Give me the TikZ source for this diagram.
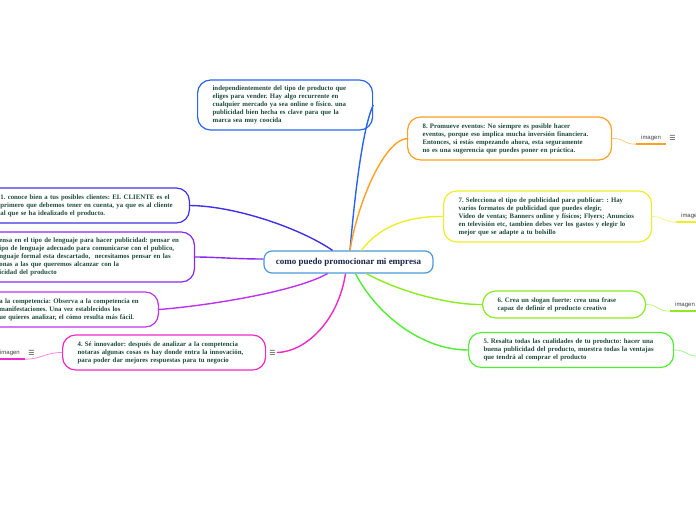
\documentclass[tikz,border=0pt]{standalone}
\usepackage{fontspec}
\setmainfont{Liberation Serif}
\setsansfont{Liberation Sans}
\newfontfamily\simbolos{DejaVu Sans}
\usetikzlibrary{positioning}
\frenchspacing

\definecolor{texto}{RGB}{30,75,60}
\definecolor{textoraiz}{RGB}{28,38,72}
\definecolor{raiz}{RGB}{74,154,216}
\definecolor{azul}{RGB}{40,100,240}
\definecolor{naranja}{RGB}{255,160,32}
\definecolor{amarillo}{RGB}{238,238,40}
\definecolor{lima}{RGB}{140,235,30}
\definecolor{verde}{RGB}{80,238,50}
\definecolor{rosa}{RGB}{240,40,200}
\definecolor{morado}{RGB}{190,50,240}
\definecolor{violeta}{RGB}{138,40,240}
\definecolor{indigo}{RGB}{64,48,232}

\newcommand{\lineas}[1]{\begin{tabular}{@{}l@{}}#1\end{tabular}}

\begin{document}
\begin{tikzpicture}[
      x=1pt, y=-1pt,
      tema/.style={rectangle, draw=raiz, line width=1.2pt, rounded corners=8pt, fill=white, minimum width=169pt, minimum height=22pt, font=\fontsize{9}{11}\selectfont\bfseries, text=textoraiz},
      idea/.style={rectangle, draw=#1, line width=1.2pt, rounded corners=13pt, fill=white, inner xsep=15pt, inner ysep=2pt, align=left, font=\fontsize{6.8}{8}\selectfont\bfseries, text=texto},
      rama/.style={draw=#1, line width=1.4pt},
      hilo/.style={draw=#1!55, line width=0.8pt},
      raya/.style={draw=#1, line width=2pt},
      tab/.style={font=\sffamily\fontsize{6}{7}\selectfont, text=black!75, minimum width=30pt, minimum height=12pt, inner sep=0pt},
      menu/.style={font=\simbolos\fontsize{7}{8}\selectfont, text=black!75, inner sep=1pt}
    ]
    \useasboundingbox (0,0) rectangle (696,520);
    \clip (0,0) rectangle (696,520);

    \node[tema] (root) at (348.5,262) {como puedo promocionar mi empresa};

    \node[idea=azul, anchor=west, text width=145pt, minimum height=50pt] (intro) at (197,105) {\lineas{independientemente del tipo de producto que\\ eliges para vender. Hay algo recurrente en\\ cualquier mercado ya sea online o físico. una\\ publicidad bien hecha es clave para que la\\ marca sea muy coocida}};
    \node[idea=naranja, anchor=west, text width=174pt, minimum height=43pt] (n8) at (407,138.5) {\lineas{8. Promueve eventos: No siempre es posible hacer\\ eventos, porque eso implica mucha inversión financiera.\\ Entonces, si estás empezando ahora, esta seguramente\\ no es una sugerencia que puedes poner en práctica.}};
    \node[idea=amarillo, anchor=west, text width=178pt, minimum height=51pt] (n7) at (443,216.5) {\lineas{7. Selecciona el tipo de publicidad para publicar: : Hay\\ varios formatos de publicidad que puedes elegir,\\ Video de ventas; Banners online y físicos; Flyers; Anuncios\\ en televisión etc, tambien debes ver los gastos y elegir lo\\ mejor que se adapte a tu bolsillo}};
    \node[idea=lima, anchor=west, text width=133pt, minimum height=27pt] (n6) at (482,304.5) {\lineas{6. Crea un slogan fuerte: crea una frase\\ capaz de definir el producto creativo}};
    \node[idea=verde, anchor=west, text width=175pt, minimum height=35pt] (n5) at (468,350) {\lineas{5. Resalta todas las cualidades de tu producto: hacer una\\ buena publicidad del producto, muestra todas la ventajas\\ que tendrá al comprar el producto}};
    \node[idea=rosa, anchor=west, text width=173pt, minimum height=35pt] (n4) at (62,352.5) {\lineas{4. Sé innovador: después de analizar a la competencia\\ notaras algunas cosas es hay donde entra la innovación,\\ para poder dar mejores respuestas para tu negocio}};
    \node[idea=morado, anchor=east, text width=144pt, minimum height=35pt] (n3) at (159,309.5) {\lineas{a la competencia: Observa a la competencia en\\ manifestaciones. Una vez establecidos los\\ ue quieres analizar, el cómo resulta más fácil.}};
    \node[idea=violeta, anchor=east, text width=180pt, minimum height=50pt] (n2) at (195,257) {\lineas{ensa en el tipo de lenguaje para hacer publicidad: pensar en\\ ipo de lenguaje adecuado para comunicarse con el publico,\\ nguaje formal esta descartado,\ \ necesitamos pensar en las\\ onas a las que queremos alcanzar con la\\ icidad del producto}};
    \node[idea=indigo, anchor=east, text width=174pt, minimum height=35pt] (n1) at (190,205.5) {\lineas{1. conoce bien a tus posibles clientes: EL CLIENTE es el\\ primero que debemos tener en cuenta, ya que es al cliente\\ al que se ha idealizado el producto.}};

    \node[menu, right=2pt of n4] (m4) {☰};

    \node[tab] (img8) at (651,138) {imagen};
    \node[menu, right=2pt of img8] (m8) {☰};
    \node[tab] (img7) at (691,216) {imagen};
    \node[tab] (img6) at (685,305) {imagen};
    \node[tab] (img4) at (10,353) {imagen};
    \node[menu, right=2pt of img4] (m4b) {☰};
    \coordinate (out5) at (700,356);

    \draw[rama=azul] ([xshift=1.5pt]root.north) .. controls (356,180) and (364,125) .. (intro.east);
    \draw[rama=naranja] ([xshift=1.5pt]root.north) .. controls (358,200) and (385,140) .. (n8.west);
    \draw[rama=amarillo] ([xshift=13pt]root.north) .. controls (378,228) and (405,216) .. (n7.west);
    \draw[rama=indigo] ([xshift=-16pt]root.north) .. controls (300,228) and (235,206) .. (n1.east);
    \draw[rama=violeta] ([yshift=3pt]root.west) .. controls (235,259) and (215,257) .. (n2.east);
    \draw[rama=morado] ([xshift=-21pt]root.south) .. controls (295,292) and (205,306) .. (n3.east);
    \draw[rama=rosa] ([xshift=-3pt]root.south) .. controls (338,322) and (305,352) .. (m4.east);
    \draw[rama=lima] ([xshift=18pt]root.south) .. controls (400,292) and (450,305) .. (n6.west);
    \draw[rama=verde] ([xshift=7pt]root.south) .. controls (375,312) and (420,350) .. (n5.west);

    \draw[raya=naranja] (img8.south west) -- (img8.south east);
    \draw[raya=amarillo] (img7.south west) -- (img7.south east);
    \draw[raya=lima] (img6.south west) -- (img6.south east);
    \draw[raya=rosa] (img4.south west) -- (img4.south east);
    \draw[hilo=naranja] (n8.east) .. controls (626,138.5) and (622,144) .. (img8.south west);
    \draw[hilo=amarillo] (n7.east) .. controls (665,216.5) and (662,222) .. (img7.south west);
    \draw[hilo=lima] (n6.east) .. controls (659,304.5) and (656,311) .. (img6.south west);
    \draw[hilo=verde] (n5.east) .. controls (688,350) and (686,357) .. (out5);
    \draw[hilo=rosa] (n4.west) .. controls (45,352.5) and (42,359) .. (img4.south east);
  \end{tikzpicture}
\end{document}
